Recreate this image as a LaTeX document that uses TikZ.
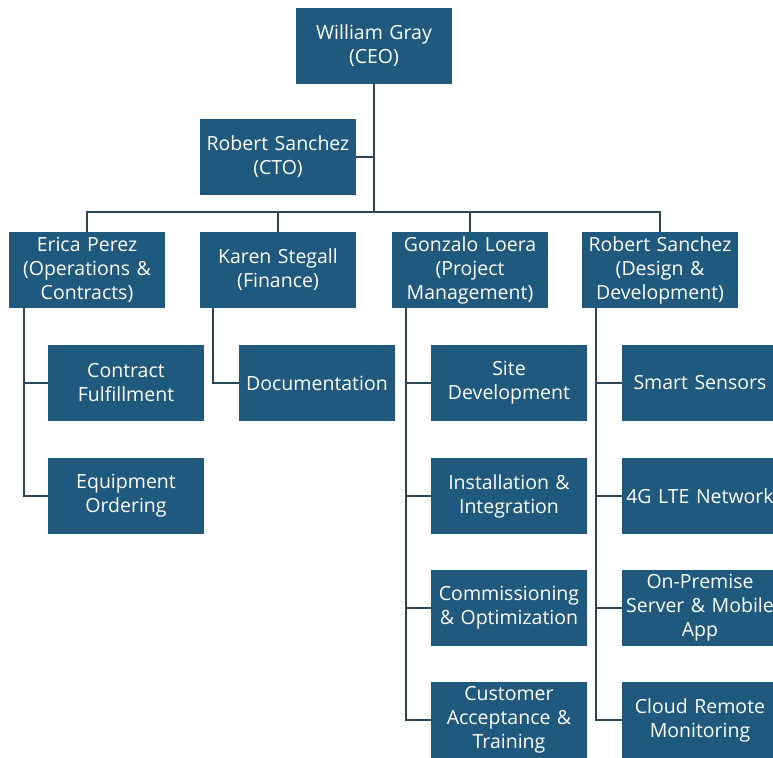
\documentclass[tikz,border=0pt]{standalone}
\usepackage{fontspec}
\setmainfont{Open Sans}
\usepackage{tikz}
\usetikzlibrary{positioning}

\definecolor{boxblue}{RGB}{31,89,126}
\definecolor{linegray}{RGB}{44,70,88}

\begin{document}
\begin{tikzpicture}[x=1pt,y=-1pt]
\tikzstyle{person} = [rectangle, fill=boxblue, text=white, font=\fontsize{19.5}{24}\selectfont,
text width=154pt, align=center, minimum width=156pt, minimum height=76pt, inner sep=0pt]
\tikzstyle{task} = [person]
\tikzstyle{line} = [draw=linegray, line width=2.2pt]

\useasboundingbox (0,0) rectangle (773,757);
\clip (0,0) rectangle (773,757);

% top
\node [person] (ceo) at (374,46) {William Gray\\(CEO)};
\node [person] (cto) at (278,157) {Robert Sanchez\\(CTO)};
\coordinate (bus) at (374,212);

% heads
\node [person] (erica) at (87,270) {Erica Perez\\(Operations \&\\Contracts)};
\node [person] (karen) at (278,270) {Karen Stegall\\(Finance)};
\node [person] (gonzalo) at (470,270) {Gonzalo Loera\\(Project\\Management)};
\node [person] (robert) at (660,270) {Robert Sanchez\\(Design \&\\Development)};

% tasks
\node [task] (contract) at (126,383) {Contract\\Fulfillment};
\node [task] (equipment) at (126,496) {Equipment\\Ordering};
\node [task] (docs) at (317,383) {Documentation};
\node [task] (site) at (509,383) {Site\\Development};
\node [task] (install) at (509,496) {Installation \&\\Integration};
\node [task] (commission) at (509,608) {Commissioning\\\& Optimization};
\node [task] (accept) at (509,720) {Customer\\Acceptance \&\\Training};
\node [task] (sensors) at (700,383) {Smart Sensors};
\node [task] (lte) at (700,496) {4G LTE Network};
\node [task] (server) at (700,608) {On-Premise\\Server \& Mobile\\App};
\node [task] (cloud) at (700,720) {Cloud Remote\\Monitoring};

\tikzstyle{every path}=[line]
\path (ceo) -- (bus);
\path (cto.east) -- (cto.east -| ceo);
\path (erica.north) |- (bus);
\path (karen.north) |- (bus);
\path (gonzalo.north) |- (bus);
\path (robert.north) |- (bus);

\path ([xshift=15pt]erica.south west) |- (contract.west);
\path ([xshift=15pt]erica.south west) |- (equipment.west);
\path ([xshift=13pt]karen.south west) |- (docs.west);
\path ([xshift=14pt]gonzalo.south west) |- (site.west);
\path ([xshift=14pt]gonzalo.south west) |- (install.west);
\path ([xshift=14pt]gonzalo.south west) |- (commission.west);
\path ([xshift=14pt]gonzalo.south west) |- (accept.west);
\path ([xshift=14pt]robert.south west) |- (sensors.west);
\path ([xshift=14pt]robert.south west) |- (lte.west);
\path ([xshift=14pt]robert.south west) |- (server.west);
\path ([xshift=14pt]robert.south west) |- (cloud.west);

\end{tikzpicture}
\end{document}
